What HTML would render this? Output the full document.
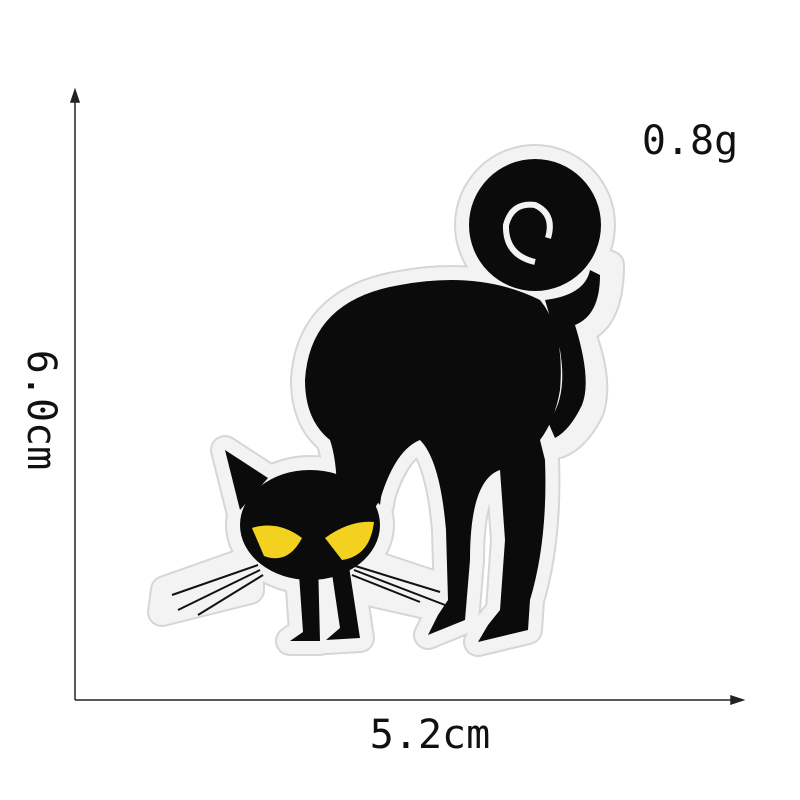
<!DOCTYPE html>
<html><head><meta charset="utf-8"><style>
html,body{margin:0;padding:0;background:#fff;width:800px;height:800px;overflow:hidden}
svg{display:block}
text{font-family:"DejaVu Sans Mono","Liberation Mono",monospace;fill:#111}
</style></head><body>
<svg width="800" height="800" viewBox="0 0 800 800">
  <defs>
    <g id="catshape">
      <circle cx="535" cy="225" r="66"/>
      <path d="M305,380 Q310,300 400,285 Q480,270 540,300 Q565,330 560,390 Q555,420 540,440 L545,460 Q548,540 530,600 L528,630 L478,642 L488,625 L500,610 L505,540 L500,470 Q470,480 470,560 L465,620 L428,635 L438,615 L448,600 L446,530 Q440,460 420,440 Q395,450 380,500 L360,530 L335,520 Q340,470 330,440 Q305,420 305,380 Z"/>
      <path d="M545,300 Q595,300 598,260 L610,265 Q610,320 580,330 Q600,380 590,410 Q575,440 555,445 L548,425 Q570,400 562,350 Z"/>
      <ellipse cx="310" cy="525" rx="70" ry="55"/>
      <polygon points="225,450 268,478 240,510"/>
      <polygon points="388,445 350,470 380,505"/>
      <path d="M298,560 L303,632 L290,641 L320,641 L318,560 Z"/>
      <path d="M330,560 L340,628 L326,640 L360,638 L348,560 Z"/>
      <path d="M250,560 L165,590 L162,612 L250,590 Z"/>
      <path d="M360,560 L450,590 L448,610 L360,590 Z"/>
    </g>
  </defs>
  <g stroke="#222" stroke-width="1.5" fill="#222">
    <line x1="75" y1="98" x2="75" y2="700"/>
    <polygon points="75,90 71,102 79,102"/>
    <line x1="75" y1="700" x2="735" y2="700"/>
    <polygon points="743,700 731,696 731,704"/>
  </g>
  <text x="690" y="154" font-size="40" text-anchor="middle">0.8g</text>
  <text x="430" y="748" font-size="40" text-anchor="middle">5.2cm</text>
  <text x="0" y="0" font-size="40" text-anchor="middle" transform="translate(28,410) rotate(90)">6.0cm</text>

  <g>
    <use href="#catshape" fill="#d6d6d6" stroke="#d6d6d6" stroke-width="30" stroke-linejoin="round"/>
    <use href="#catshape" fill="#f3f3f3" stroke="#f3f3f3" stroke-width="26" stroke-linejoin="round"/>
    <g fill="#0b0b0b">
      <circle cx="535" cy="225" r="66"/>
      <path d="M305,380 Q310,300 400,285 Q480,270 540,300 Q565,330 560,390 Q555,420 540,440 L545,460 Q548,540 530,600 L528,630 L478,642 L488,625 L500,610 L505,540 L500,470 Q470,480 470,560 L465,620 L428,635 L438,615 L448,600 L446,530 Q440,460 420,440 Q395,450 380,500 L360,530 L335,520 Q340,470 330,440 Q305,420 305,380 Z"/>
      <path d="M545,300 Q585,295 590,270 L600,275 Q600,315 575,325 Q592,380 582,405 Q570,430 555,438 L548,422 Q568,398 560,350 Z"/>
      <ellipse cx="310" cy="525" rx="70" ry="55"/>
      <polygon points="225,450 268,478 240,510"/>
      <polygon points="388,445 350,470 380,505"/>
      <path d="M298,560 L303,632 L290,641 L320,641 L318,560 Z"/>
      <path d="M330,560 L340,628 L326,640 L360,638 L348,560 Z"/>
    </g>
    <path d="M548,238 Q555,214 535,205 Q512,202 506,225 Q505,255 535,262" fill="none" stroke="#f3f3f3" stroke-width="6"/>
    <g fill="#f2d21e">
      <path d="M252,528 Q278,520 302,538 Q288,565 264,556 Z"/>
      <path d="M325,538 Q350,520 374,522 Q370,556 342,560 Z"/>
    </g>
    <g stroke="#111" stroke-width="2" fill="none">
      <path d="M258,565 L172,595"/><path d="M260,570 L178,610"/><path d="M263,575 L198,615"/>
      <path d="M352,565 L440,592"/><path d="M354,570 L445,605"/><path d="M352,575 L420,602"/>
    </g>
  </g>
</svg>
</body></html>
